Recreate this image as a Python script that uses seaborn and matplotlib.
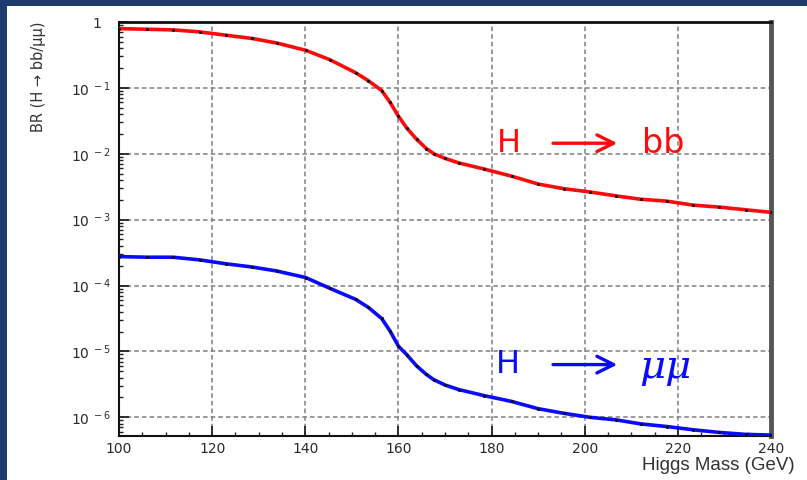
import matplotlib
matplotlib.use("Agg")
import matplotlib.pyplot as plt
import seaborn as sns
import pandas as pd
from matplotlib.patches import Rectangle
from matplotlib.ticker import FixedLocator, FixedFormatter, MultipleLocator, LogLocator, NullFormatter

# ---- data ----
mass = [100, 106, 111.6, 117.3, 122.9, 128.6, 133.9, 140.1, 145.2, 150.8, 153.5, 156.4,
        158.2, 160, 161.8, 163.9, 166, 167.6, 170, 173, 178.3, 184.3, 190, 195.5, 201.1,
        206.8, 212, 217.6, 223.3, 228.9, 234.6, 240]
br_bb = [0.794, 0.776, 0.759, 0.708, 0.631, 0.562, 0.479, 0.372, 0.269, 0.170, 0.129,
         0.0912, 0.0603, 0.0372, 0.0245, 0.0166, 0.0120, 0.0100, 0.00851, 0.00724,
         0.00589, 0.00457, 0.00347, 0.00295, 0.00263, 0.00229, 0.00204, 0.00191,
         0.00166, 0.00155, 0.00141, 0.00129]
br_mumu = [2.75e-4, 2.69e-4, 2.69e-4, 2.45e-4, 2.14e-4, 1.91e-4, 1.66e-4, 1.32e-4, 9.12e-5,
           6.17e-5, 4.68e-5, 3.16e-5, 2.04e-5, 1.20e-5, 8.91e-6, 6.03e-6, 4.47e-6, 3.72e-6,
           3.09e-6, 2.63e-6, 2.14e-6, 1.74e-6, 1.35e-6, 1.15e-6, 1.00e-6, 9.12e-7, 7.94e-7,
           7.24e-7, 6.46e-7, 5.89e-7, 5.50e-7, 5.37e-7]
x_ticks = [100, 120, 140, 160, 180, 200, 220, 240]
y_ticks = [1, 1e-1, 1e-2, 1e-3, 1e-4, 1e-5, 1e-6]
y_tick_labels = ["1  ", r"$10^{\;-1}$", r"$10^{\;-2}$", r"$10^{\;-3}$", r"$10^{\;-4}$",
                 r"$10^{\;-5}$", r"$10^{\;-6}$"]

df = pd.DataFrame({
    "mass": mass + mass,
    "BR": br_bb + br_mumu,
    "decay": ["bb"] * len(mass) + ["mumu"] * len(mass),
})

sns.set_style("ticks")
plt.rcParams["font.family"] = ["Liberation Sans", "DejaVu Sans"]
plt.rcParams["mathtext.default"] = "regular"

fig = plt.figure(figsize=(8.07, 4.8), dpi=100, facecolor="#1c3b6e")
fig.patches.append(Rectangle((7 / 807, 0), 800 / 807, 474 / 480, transform=fig.transFigure,
                             facecolor="white", edgecolor="none", zorder=-10))

ax = fig.add_axes([119 / 807, 1 - 436 / 480, (771 - 119) / 807, (436 - 22) / 480])
ax.set_zorder(2)
ax.set_facecolor("white")

sns.lineplot(data=df, x="mass", y="BR", hue="decay",
             palette={"bb": "#ff0a0a", "mumu": "#0a0aff"},
             linewidth=2.6, legend=False, ax=ax, zorder=3)
sns.scatterplot(data=df, x="mass", y="BR", color="#111111", s=5, linewidth=0,
                legend=False, ax=ax, zorder=4)

ax.set_yscale("log")
ax.set_xlim(100, 240)
ax.set_ylim(5.2e-7, 1.0)

ax.xaxis.set_major_locator(FixedLocator(x_ticks))
ax.xaxis.set_minor_locator(MultipleLocator(5))
ax.yaxis.set_major_locator(FixedLocator(y_ticks))
ax.yaxis.set_major_formatter(FixedFormatter(y_tick_labels))
ax.yaxis.set_minor_locator(LogLocator(base=10, subs=range(2, 10)))
ax.yaxis.set_minor_formatter(NullFormatter())

ax.tick_params(which="both", direction="in", top=False, right=False, colors="#222222",
               labelcolor="#2a2a2a", labelsize=10)
ax.tick_params(which="major", length=7, width=1.3)
ax.tick_params(which="minor", length=3, width=1.0)
ax.tick_params(axis="x", pad=4)
ax.tick_params(axis="y", pad=6)
for lab in ax.get_xticklabels() + ax.get_yticklabels():
    lab.set_family(["DejaVu Sans"])

ax.grid(True, which="major", color="#808080", linestyle=(0, (3, 2)), linewidth=1.1, zorder=1)
ax.set_axisbelow(True)

for side in ["left", "bottom"]:
    ax.spines[side].set_color("#111111")
    ax.spines[side].set_linewidth(1.5)
ax.spines["top"].set_color("#111111")
ax.spines["top"].set_linewidth(2.0)
ax.spines["right"].set_color("#555555")
ax.spines["right"].set_linewidth(3.5)

ax.set_xlabel("")
ax.set_ylabel("")

# in-plot labels
y_bb = 10 ** -1.84
ax.text(181.2, y_bb, "H", color="#ff0a0a", fontsize=23, va="center", ha="left",
        family=["DejaVu Sans"])
ax.annotate("", xy=(207.0, y_bb), xytext=(193.2, y_bb),
            arrowprops=dict(arrowstyle="->", color="#ff0a0a", lw=2.4, mutation_scale=30,
                            shrinkA=0, shrinkB=0))
ax.text(212.4, y_bb, "bb", color="#ff0a0a", fontsize=24, va="center", ha="left",
        family=["DejaVu Sans"])

y_mm = 10 ** -5.2
ax.text(181.0, y_mm, "H", color="#0a0aff", fontsize=23, va="center", ha="left",
        family=["DejaVu Sans"])
ax.annotate("", xy=(207.0, y_mm), xytext=(193.2, y_mm),
            arrowprops=dict(arrowstyle="->", color="#0a0aff", lw=2.4, mutation_scale=30,
                            shrinkA=0, shrinkB=0))
ax.text(211.8, 10 ** -5.25, "μμ", color="#0a0aff", fontsize=29, va="center", ha="left",
        fontstyle="italic", family=["DejaVu Serif"])

fig.text(38 / 807, 1 - 77 / 480, "BR (H → bb/μμ)", rotation=90, fontsize=10.5,
         ha="center", va="center", color="#333333", family=["DejaVu Sans"])
fig.text(795 / 807, 1 - 466 / 480, "Higgs Mass (GeV)", ha="right", va="center",
         fontsize=13.5, color="#333333")

fig.savefig("out.png", dpi=100, facecolor=fig.get_facecolor())
